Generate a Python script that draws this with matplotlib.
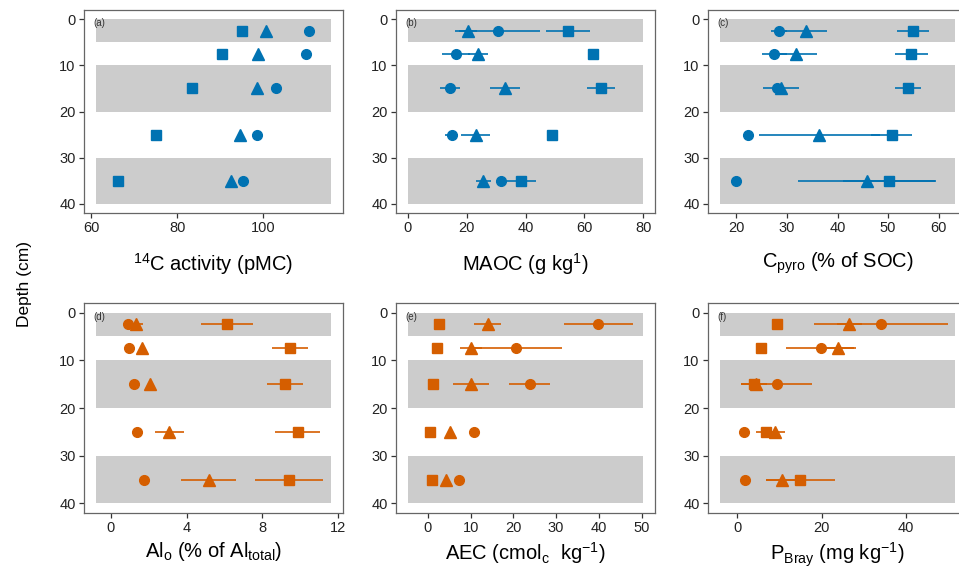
import numpy as np
import matplotlib
matplotlib.use('Agg')
import matplotlib.pyplot as plt

plt.rcParams['font.family'] = ['Liberation Sans', 'DejaVu Sans']
plt.rcParams['mathtext.fontset'] = 'custom'
plt.rcParams['mathtext.rm'] = 'Liberation Sans'
plt.rcParams['mathtext.it'] = 'Liberation Sans:italic'

# depth of each sample (cm) and the shaded depth bands
depth = [2.5, 7.5, 15, 25, 35]
bands = [(0, 5), (10, 20), (30, 40)]

# (a) 14C activity
a_circ = [110.7, 110.1, 103.2, 98.7, 95.5]
a_tri = [100.8, 99.0, 98.7, 94.7, 92.6]
a_sq = [95.1, 90.6, 83.4, 75.0, 66.3]

# (b) MAOC
b_circ = [30.5, 16.3, 14.3, 14.9, 31.8]
b_circ_err = [14.3, 4.8, 3.5, 2.3, 1.0]
b_tri = [20.5, 23.9, 33.0, 23.1, 25.7]
b_tri_err = [3.0, 3.4, 5.0, 5.0, 2.5]
b_sq = [54.5, 63.1, 65.7, 49.0, 38.6]
b_sq_err = [7.4, 1.0, 4.7, 1.5, 5.0]

# (c) Cpyro
c_circ = [28.5, 27.5, 28.0, 22.2, 20.0]
c_circ_err = [1.6, 2.5, 1.0, 0.5, 0.5]
c_tri = [33.8, 31.8, 28.8, 36.4, 45.8]
c_tri_err = [4.1, 4.1, 3.6, 12.0, 13.6]
c_sq = [55.0, 54.6, 53.9, 50.7, 50.2]
c_sq_err = [3.2, 3.3, 2.6, 4.1, 9.1]

# (d) Alo
d_circ = [0.92, 0.94, 1.24, 1.38, 1.73]
d_circ_err = [0.1, 0.05, 0.05, 0.05, 0.05]
d_tri = [1.32, 1.64, 2.08, 3.09, 5.17]
d_tri_err = [0.4, 0.1, 0.1, 0.78, 1.46]
d_sq = [6.14, 9.49, 9.21, 9.88, 9.44]
d_sq_err = [1.4, 0.95, 0.93, 1.2, 1.8]

# (e) AEC
e_circ = [39.9, 20.6, 23.8, 10.7, 7.2]
e_circ_err = [8.1, 10.7, 4.7, 0.3, 0.3]
e_tri = [14.0, 10.1, 10.0, 5.1, 4.3]
e_tri_err = [3.2, 2.6, 4.2, 0.3, 0.3]
e_sq = [2.7, 2.2, 1.2, 0.6, 0.9]
e_sq_err = [0.3, 0.2, 0.2, 0.2, 0.2]

# (f) PBray
f_circ = [34.1, 19.8, 9.3, 1.5, 1.9]
f_circ_err = [15.9, 8.3, 8.5, 0.3, 0.3]
f_tri = [26.6, 24.0, 4.3, 9.0, 10.7]
f_tri_err = [3.0, 3.8, 1.0, 2.3, 3.9]
f_sq = [9.3, 5.5, 3.9, 6.9, 14.9]
f_sq_err = [0.8, 0.3, 3.1, 2.4, 8.2]

blue = '#0072B2'
orange = '#D55E00'

panels = [
    dict(tag='(a)', circ=a_circ, tri=a_tri, sq=a_sq, errs=None,
         span=(61, 116), ticks=[60, 80, 100], color=blue,
         label=r'$\mathregular{^{14}}$C activity (pMC)'),
    dict(tag='(b)', circ=b_circ, tri=b_tri, sq=b_sq,
         errs=(b_circ_err, b_tri_err, b_sq_err),
         span=(0, 80), ticks=[0, 20, 40, 60, 80], color=blue,
         label=r'MAOC (g kg$\mathregular{^{1}}$)'),
    dict(tag='(c)', circ=c_circ, tri=c_tri, sq=c_sq,
         errs=(c_circ_err, c_tri_err, c_sq_err),
         span=(16.7, 63.3), ticks=[20, 30, 40, 50, 60], color=blue,
         label=r'C$\mathregular{_{pyro}}$ (% of SOC)'),
    dict(tag='(d)', circ=d_circ, tri=d_tri, sq=d_sq,
         errs=(d_circ_err, d_tri_err, d_sq_err),
         span=(-0.8, 11.65), ticks=[0, 4, 8, 12], color=orange,
         label=r'Al$\mathregular{_{o}}$ (% of Al$\mathregular{_{total}}$)'),
    dict(tag='(e)', circ=e_circ, tri=e_tri, sq=e_sq,
         errs=(e_circ_err, e_tri_err, e_sq_err),
         span=(-4.7, 50.4), ticks=[0, 10, 20, 30, 40, 50], color=orange,
         label=r'AEC (cmol$\mathregular{_{c}}$  kg$\mathregular{^{-1}}$)'),
    dict(tag='(f)', circ=f_circ, tri=f_tri, sq=f_sq,
         errs=(f_circ_err, f_tri_err, f_sq_err),
         span=(-4.2, 51.8), ticks=[0, 20, 40], color=orange,
         label=r'P$\mathregular{_{Bray}}$ (mg kg$\mathregular{^{-1}}$)'),
]

W, H = 959, 568
fig = plt.figure(figsize=(W / 100, H / 100), dpi=100)

# axes boxes in pixels: left, top, width, height
lefts = [84, 396, 708]
rows = [(10, 203), (303, 210)]
label_pads = [11, 3.5]
axw = 259

for k, p in enumerate(panels):
    r, c = divmod(k, 3)
    top, h = rows[r]
    ax = fig.add_axes([lefts[c] / W, 1 - (top + h) / H, axw / W, h / H])

    x0, x1 = p['span']
    for b0, b1 in bands:
        ax.fill_between([x0, x1], b0, b1, color='#cccccc', lw=0, zorder=0)

    col = p['color']
    series = [(p['circ'], 'o', 7), (p['tri'], '^', 8.5), (p['sq'], 's', 6.8)]
    if p['errs'] is not None:
        for (vals, _, _), err in zip(series, p['errs']):
            ax.errorbar(vals, depth, xerr=err, fmt='none', ecolor=col,
                        elinewidth=1.2, capsize=0, zorder=2)
    for vals, m, ms in series:
        ax.plot(vals, depth, ls='none', marker=m, ms=ms, color=col,
                mec=col, zorder=3)

    pad = 0.05 * (x1 - x0)
    ax.set_xlim(x0 - pad, x1 + pad)
    ax.set_ylim(42, -2)
    ax.set_xticks(p['ticks'])
    ax.set_yticks([0, 10, 20, 30, 40])
    ax.tick_params(labelsize=10.5, length=3.5, width=0.9, color='#333333',
                   labelcolor='#222222', pad=2.5)
    for s in ax.spines.values():
        s.set_color('#666666')
        s.set_linewidth(0.9)
    ax.set_xlabel(p['label'], fontsize=14.5, labelpad=label_pads[r])
    ax.text(0.035, 0.935, p['tag'], transform=ax.transAxes, fontsize=7,
            color='#333333', va='center', ha='left')

fig.text(25 / W, 1 - 284 / H, 'Depth (cm)', rotation=90, fontsize=12.5,
         va='center', ha='center')

fig.savefig('out.png', dpi=100)
